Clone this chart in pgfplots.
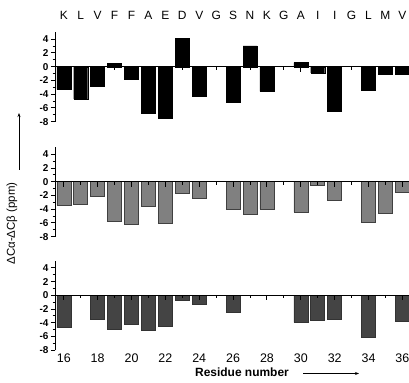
\documentclass[border=0pt]{standalone}
\usepackage{pgfplots}
\pgfplotsset{compat=1.18}
\usepackage{fontspec}
\setmainfont{Liberation Sans}
\usetikzlibrary{arrows.meta}

\definecolor{midgray}{RGB}{128,128,128}
\definecolor{darkgray}{RGB}{68,68,68}

\pgfplotsset{
  resid/.style={
    anchor=south west,
    x=16.93bp, y=6.87bp,
    xmin=15.51, xmax=36.6, ymin=-8, ymax=5,
    axis x line*=middle, axis y line*=left,
    axis line style={line width=1bp, black},
    axis on top,
    xtick=\empty,
    ytick={-8,-6,-4,-2,0,2,4}, minor ytick={-7,-5,-3,-1,1,3},
    yticklabels={-8,-6,-4,-2,0,2,4},
    yticklabel style={font=\fontsize{10}{10}\selectfont\bfseries, xshift=1bp},
    tick align=outside,
    major tick length=4.5bp, minor tick length=2.8bp,
    tick style={line width=1bp, black},
    clip=false,
  },
  resbar/.style={ybar, bar width=14bp, bar shift=0pt},
}

% residue ticks hanging from the zero line
\newcommand\residueticks{%
  \pgfplotsinvokeforeach{16,18,20,22,24,26,28,30,32,34,36}{%
    \draw[line width=1bp] (axis cs:##1,0) -- ([yshift=-5bp]axis cs:##1,0);}%
  \pgfplotsinvokeforeach{17,19,21,23,25,27,29,31,33,35}{%
    \draw[line width=1bp] (axis cs:##1,0) -- ([yshift=-3bp]axis cs:##1,0);}%
}

\begin{document}
\begin{tikzpicture}
\useasboundingbox (0,0) rectangle (409bp,383bp);

% top panel
\begin{axis}[resid, at={(55.5bp,261.3bp)}]
\addplot[resbar, fill=black, draw=black] coordinates {
  (16,-3.3) (17,-4.7) (18,-2.9) (19,0.45) (20,-1.8) (21,-6.8) (22,-7.45)
  (23,4.1) (24,-4.25) (26,-5.2) (27,3.05) (28,-3.6) (30,0.6) (31,-0.9)
  (32,-6.5) (34,-3.45) (35,-1.05) (36,-1.05)
};
\residueticks
\end{axis}

% middle panel
\begin{axis}[resid, at={(55.5bp,146.3bp)}]
\addplot[resbar, fill=midgray, draw=black!75, line width=0.5bp] coordinates {
  (16,-3.4) (17,-3.3) (18,-2.15) (19,-5.8) (20,-6.2) (21,-3.6) (22,-6.0)
  (23,-1.65) (24,-2.4) (26,-4.0) (27,-4.75) (28,-4.0) (30,-4.4) (31,-0.55)
  (32,-2.65) (34,-5.9) (35,-4.65) (36,-1.55)
};
\residueticks
\end{axis}

% bottom panel
\begin{axis}[resid, at={(55.5bp,32.7bp)}]
\addplot[resbar, fill=darkgray, draw=black!80, line width=0.5bp] coordinates {
  (16,-4.7) (18,-3.45) (19,-4.9) (20,-4.25) (21,-5.15) (22,-4.5) (23,-0.65)
  (24,-1.25) (26,-2.4) (30,-3.95) (31,-3.6) (32,-3.5) (34,-6.1) (36,-3.7)
};
\residueticks
\end{axis}

% residue letters above the top panel
\foreach [count=\k from 0] \l in {K,L,V,F,F,A,E,D,V,G,S,N,K,G,A,I,I,G,L,M,V}
  \node[anchor=base, inner sep=0pt, font=\fontsize{12}{12}\selectfont]
    at ({63.8bp+\k*16.93bp}, 363bp) {\l};

% residue numbers below the bottom panel
\foreach \n in {16,18,...,36}
  \node[inner sep=0pt, font=\fontsize{12.5}{12.5}\selectfont]
    at ({63.8bp+(\n-16)*16.93bp}, 25bp) {\n};

\node[inner sep=0pt, font=\fontsize{12}{12}\selectfont\bfseries]
  at (242bp,10.5bp) {Residue number};
\draw[line width=0.7bp, -{Stealth[length=4bp,width=3bp]}] (303bp,9.5bp) -- (359bp,9.5bp);

\node[rotate=90, inner sep=0pt, font=\fontsize{11.5}{11.5}\selectfont]
  at (12bp,159.5bp) {ΔCα-ΔCβ (ppm)};
\draw[line width=0.7bp, -{Stealth[length=4bp,width=3bp]}] (19bp,213bp) -- (19bp,270bp);
\end{tikzpicture}
\end{document}
